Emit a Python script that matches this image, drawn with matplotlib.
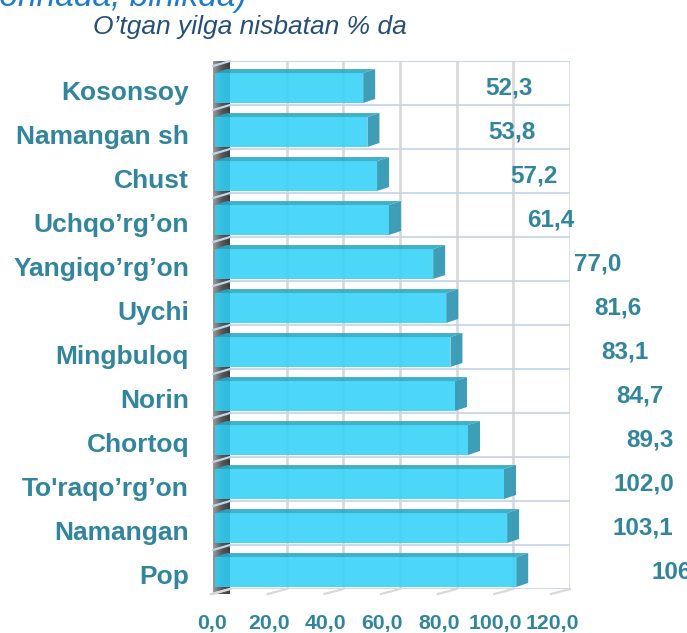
import numpy as np
import matplotlib
matplotlib.use("Agg")
import matplotlib.pyplot as plt
from matplotlib.patches import Polygon
from matplotlib.lines import Line2D
from matplotlib.transforms import ScaledTranslation, IdentityTransform
from matplotlib.colors import LinearSegmentedColormap

# ---- data ----
districts = ["Kosonsoy", "Namangan sh", "Chust", "Uchqo\u2019rg\u2019on",
             "Yangiqo\u2019rg\u2019on", "Uychi", "Mingbuloq", "Norin",
             "Chortoq", "To'raqo\u2019rg\u2019on", "Namangan", "Pop"]
growth = [52.3, 53.8, 57.2, 61.4, 77.0, 81.6, 83.1, 84.7, 89.3, 102.0, 103.1, 106.3]
value_labels = ["52,3", "53,8", "57,2", "61,4", "77,0", "81,6", "83,1", "84,7",
                "89,3", "102,0", "103,1", "106,3"]
tick_values = [0, 20, 40, 60, 80, 100, 120]
tick_labels = ["0,0", "20,0", "40,0", "60,0", "80,0", "100,0", "120,0"]

# horizontal placement of the value labels (in axis units)
label_x = [98.3, 99.5, 107.3, 113.3, 129.9, 137.0, 139.4, 144.7, 148.3, 146.1, 145.8, 159.5]

# ---- style ----
TEAL = "#31859C"
FRONT = "#2FD0F7"
SIDE = "#3399B3"
TOP = "#2CA8C6"
GRID_V = "#D9D9D9"
GRID_H = "#C3D3EA"

DPI = 100
fig = plt.figure(figsize=(6.87, 6.33), dpi=DPI)
W, H = 687, 633

# back wall of the 3-D box
ax = fig.add_axes([230 / W, 1 - 589 / H, 340 / W, 528 / H])
ax.set_xlim(0, 120)
ax.set_ylim(-0.5, len(districts) - 0.5)
ax.axis("off")

n = len(districts)
ypos = np.arange(n)[::-1]          # first category at the top


def shift(dx, dy):
    """Data transform moved by (dx, dy) pixels, dy measured downward."""
    return ax.transData + ScaledTranslation(dx / DPI, -dy / DPI, fig.dpi_scale_trans)


def disp(x, y, dx=0.0, dy=0.0):
    px, py = ax.transData.transform((x, y))
    return (px + dx, py - dy)


FRONT_OFF = (-15, 5)   # front face of the bars
BACK_OFF = (-3, 1)     # rear face of the bars
WALL_OFF = (-17, 5)    # front edge of the left wall
FLOOR_OFF = (-19, 5)   # front edge of the floor
BAR_H = 0.68

# left wall, with a grey gradient
y0, y1 = -0.5, n - 0.5
wall = Polygon([disp(0, y0), disp(0, y1), disp(0, y1, *WALL_OFF), disp(0, y0, *WALL_OFF)],
               closed=True, transform=IdentityTransform(), facecolor="none",
               edgecolor="none")
fig.add_artist(wall)
grad = np.linspace(0, 1, 64).reshape(1, -1)
wx0 = disp(0, y0, *WALL_OFF)[0]
wx1 = disp(0, y0)[0]
gy0 = disp(0, y0, *WALL_OFF)[1]
gy1 = disp(0, y1)[1]
wall_cmap = LinearSegmentedColormap.from_list("wall", ["#9A9A9A", "#5A5A5A", "#3E3E3E"])
gim = ax.imshow(grad, cmap=wall_cmap, aspect="auto", transform=IdentityTransform(),
                extent=(wx0, wx1, gy0, gy1), zorder=1, clip_on=False)
gim.set_clip_path(wall)

# back-wall grid: vertical value lines and row separators
for v in tick_values[1:]:
    ax.plot([v, v], [y0, y1], color=GRID_V, lw=1.9, zorder=0.5, solid_capstyle="butt")
for k in range(n + 1):
    yy = y0 + k
    ax.plot([0, 120], [yy, yy], color=GRID_H, lw=1.2, zorder=0.6)
    a = disp(0, yy)
    b = disp(0, yy, *WALL_OFF)
    fig.add_artist(Line2D([a[0], b[0]], [a[1], b[1]], color=GRID_H, lw=1.6,
                          transform=IdentityTransform(), zorder=2))

# floor ticks
for v in tick_values:
    a = disp(v, y0)
    b = disp(v, y0, *FLOOR_OFF)
    fig.add_artist(Line2D([a[0], b[0]], [a[1], b[1]], color=GRID_V, lw=1.6,
                          transform=IdentityTransform(), zorder=2))

# bars: top and side faces, then the front face
for yc, v in zip(ypos, growth):
    top = [disp(0, yc + BAR_H / 2, *FRONT_OFF), disp(v, yc + BAR_H / 2, *FRONT_OFF),
           disp(v, yc + BAR_H / 2, *BACK_OFF), disp(0, yc + BAR_H / 2, *BACK_OFF)]
    side = [disp(v, yc - BAR_H / 2, *FRONT_OFF), disp(v, yc + BAR_H / 2, *FRONT_OFF),
            disp(v, yc + BAR_H / 2, *BACK_OFF), disp(v, yc - BAR_H / 2, *BACK_OFF)]
    fig.add_artist(Polygon(top, closed=True, transform=IdentityTransform(),
                           facecolor=TOP, edgecolor="none", alpha=0.9, zorder=3))
    fig.add_artist(Polygon(side, closed=True, transform=IdentityTransform(),
                           facecolor=SIDE, edgecolor="none", alpha=0.95, zorder=3))

ax.barh(ypos, growth, height=BAR_H, left=0, color=FRONT, alpha=0.86,
        transform=shift(*FRONT_OFF), zorder=4, clip_on=False)

# value labels
for yc, lx, txt in zip(ypos, label_x, value_labels):
    ax.text(lx, yc, txt, transform=shift(0, 12), ha="center", va="baseline",
            fontsize=17.5, fontweight="bold", color=TEAL, family="Liberation Sans",
            clip_on=False, zorder=6)

# category labels
for yc, name in zip(ypos, districts):
    ax.text(0, yc, name, transform=shift(-41, 17), ha="right", va="baseline",
            fontsize=19, fontweight="bold", color=TEAL, family="Liberation Sans",
            clip_on=False, zorder=6)

# value-axis tick labels along the front edge of the floor
for v, t in zip(tick_values, tick_labels):
    ax.text(v, y0, t, transform=shift(-18, 40), ha="center", va="baseline",
            fontsize=15.3, fontweight="bold", color=TEAL, family="Liberation Sans",
            clip_on=False, zorder=6)

# headings
fig.text(-0.03, 1 - 6 / H, "(tonnada, birlikda)", ha="left", va="baseline",
         fontsize=24, style="italic", color="#1F7BC8", family="Liberation Sans")
fig.text(93 / W, 1 - 34 / H, "O\u2019tgan yilga nisbatan % da", ha="left", va="baseline",
         fontsize=19, style="italic", color="#254E78", family="Liberation Sans")

fig.savefig("out.png", dpi=DPI)
